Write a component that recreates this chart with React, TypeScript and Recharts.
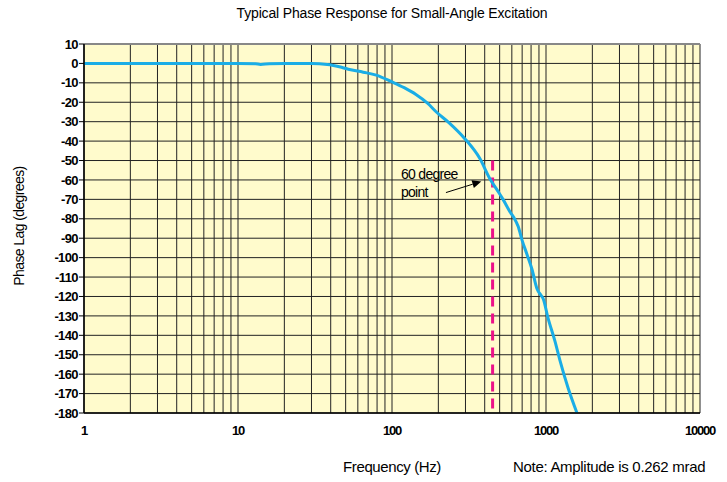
import { LineChart, Line, XAxis, YAxis, CartesianGrid, ReferenceLine } from "recharts";

// frequency (Hz) vs phase lag (degrees)
const freqHz = [1, 2, 5, 10, 13, 14, 16, 20, 30, 38, 47, 52, 65, 79, 100, 120, 143, 170, 194, 234, 295, 372, 433, 480, 526, 590, 620, 660, 699, 750, 811, 874, 930, 957, 1030, 1143, 1233, 1390, 1589];
const phaseDeg = [0, 0, 0, 0, -0.2, -0.5, -0.2, -0.1, -0.1, -0.5, -2, -3, -4.5, -6, -9.5, -12.5, -16, -20.5, -25, -30.5, -38.5, -49, -59.5, -65, -70, -77, -79.5, -84, -91, -98, -106, -116, -119.5, -121, -131, -143, -153, -167, -180];

const xTicks = [
  1, 2, 3, 4, 5, 6, 7, 8, 9,
  10, 20, 30, 40, 50, 60, 70, 80, 90,
  100, 200, 300, 400, 500, 600, 700, 800, 900,
  1000, 2000, 3000, 4000, 5000, 6000, 7000, 8000, 9000,
  10000,
];
const decadeLabels = [1, 10, 100, 1000, 10000];
const yTicks = [10, 0, -10, -20, -30, -40, -50, -60, -70, -80, -90, -100, -110, -120, -130, -140, -150, -160, -170, -180];

// dashed marker and the arrow pointing at it
const markerFreq = 450;
const markerTop = -50;
const arrowFrom = { x: 224, y: -66.5 };
const arrowTo = { x: 380, y: -60.8 };

const data = freqHz.map((f, i) => ({ f, phase: phaseDeg[i] }));

const FONT = "'Liberation Sans', Arial, sans-serif";

const ArrowShape = (props: any) => {
  const { x1, y1, x2, y2 } = props;
  const ang = Math.atan2(y2 - y1, x2 - x1);
  const len = 9;
  const w = 4;
  const bx = x2 - len * Math.cos(ang);
  const by = y2 - len * Math.sin(ang);
  const px = -Math.sin(ang) * w;
  const py = Math.cos(ang) * w;
  return (
    <g>
      <line x1={x1} y1={y1} x2={bx} y2={by} stroke="#000" strokeWidth={1} />
      <polygon points={`${x2},${y2} ${bx + px},${by + py} ${bx - px},${by - py}`} fill="#000" />
      <text x={x1 - 45} y={y1 - 14} fontFamily={FONT} fontSize={14} letterSpacing={-0.7} fill="#000">
        60 degree
      </text>
      <text x={x1 - 45} y={y1 + 4} fontFamily={FONT} fontSize={14} letterSpacing={-0.7} fill="#000">
        point
      </text>
    </g>
  );
};

export default function App() {
  return (
    <div style={{ position: "absolute", left: 0, top: 0, width: 727, height: 482, background: "#fff" }}>
      <LineChart width={727} height={482} data={data} margin={{ top: 44, right: 27, bottom: 0, left: 0 }}>
        <CartesianGrid stroke="#222" strokeWidth={1} fill="#FFFBCC" />
        <XAxis
          dataKey="f"
          type="number"
          scale="log"
          domain={[1, 10000]}
          ticks={xTicks}
          interval={0}
          tickFormatter={(v: number) => (decadeLabels.includes(v) ? String(v) : "")}
          tick={{ fontSize: 13, fontFamily: FONT, fontWeight: "bold", fill: "#000", letterSpacing: -1.2 }}
          axisLine={{ stroke: "#000", strokeWidth: 1.5 }}
          tickLine={false}
          tickMargin={7}
          height={69}
          allowDataOverflow
        />
        <YAxis
          type="number"
          domain={[-180, 10]}
          ticks={yTicks}
          interval={0}
          tick={{ fontSize: 13, fontFamily: FONT, fontWeight: "bold", fill: "#000", letterSpacing: -0.6 }}
          axisLine={{ stroke: "#000", strokeWidth: 1.5 }}
          tickLine={{ stroke: "#000" }}
          tickSize={5}
          tickMargin={1}
          width={84}
          allowDataOverflow
        />
        <ReferenceLine y={10} stroke="#888" strokeWidth={2} />
        <ReferenceLine
          segment={[{ x: markerFreq, y: markerTop }, { x: markerFreq, y: -180 }]}
          stroke="#EC1289"
          strokeWidth={3}
          strokeDasharray="10 7"
        />
        <Line
          dataKey="phase"
          stroke="#1AADE6"
          strokeWidth={3}
          dot={false}
          type="monotone"
          isAnimationActive={false}
        />
        <ReferenceLine segment={[arrowFrom, arrowTo]} shape={ArrowShape} />
      </LineChart>
      <svg width={727} height={482} style={{ position: "absolute", left: 0, top: 0, pointerEvents: "none" }}>
        <text x={392} y={18} textAnchor="middle" fontFamily={FONT} fontSize={14} letterSpacing={-0.15} fill="#000">
          Typical Phase Response for Small-Angle Excitation
        </text>
        <text
          x={24}
          y={226}
          textAnchor="middle"
          transform="rotate(-90 24 226)"
          fontFamily={FONT}
          fontSize={14}
          letterSpacing={-0.6}
          fill="#000"
        >
          Phase Lag (degrees)
        </text>
        <text x={392} y={472} textAnchor="middle" fontFamily={FONT} fontSize={15} letterSpacing={-0.4} fill="#000">
          Frequency (Hz)
        </text>
        <text x={513} y={472} fontFamily={FONT} fontSize={15} letterSpacing={-0.3} fill="#000">
          Note: Amplitude is 0.262 mrad
        </text>
      </svg>
    </div>
  );
}
